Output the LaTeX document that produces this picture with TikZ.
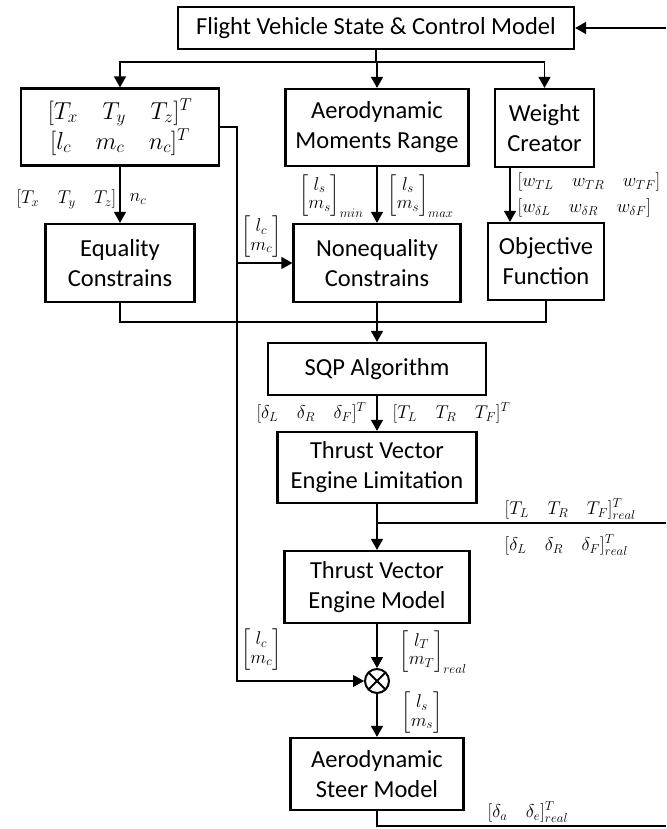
\RequirePackage{fix-cm}
\documentclass[tikz,border=0pt]{standalone}
\usepackage{amsmath}
\usepackage{fontspec}
\setmainfont{Carlito}
\usetikzlibrary{arrows.meta}
\newcommand{\boxfont}{\fontsize{24.5}{30}\selectfont}
\newcommand{\lblfont}{\fontsize{18.5}{22}\selectfont\renewcommand{\arraystretch}{0.85}}

\begin{document}
\begin{tikzpicture}[x=1pt,y=-1pt,line width=1.3pt,
		blk/.style={draw, line width=2.2pt, align=center, inner sep=0pt, font=\boxfont},
		lbl/.style={inner sep=0pt, font=\lblfont},
		sum/.style={draw, circle, line width=2pt, minimum size=24pt, inner sep=0pt,
			path picture={\draw[line width=2pt] (path picture bounding box.south west) -- (path picture bounding box.north east)
				(path picture bounding box.north west) -- (path picture bounding box.south east);}},
		>={Triangle[length=11pt,width=12pt]}]
				\useasboundingbox (0,0) rectangle (666,829);

				% blocks
				\node[blk, minimum width=396pt, minimum height=42pt] (top) at (376,28) {Flight Vehicle State \& Control Model};
				\node[blk, minimum width=198pt, minimum height=77pt] (tx) at (120,127) {$[T_x\quad T_y\quad T_z]^T$\\$[l_c\quad m_c\quad n_c]^T$};
				\node[blk, minimum width=183pt, minimum height=77pt] (aero) at (377,127.5) {Aerodynamic\\Moments Range};
				\node[blk, minimum width=99pt, minimum height=78pt] (wgt) at (544.5,128) {Weight\\Creator};
				\node[blk, minimum width=149pt, minimum height=78pt] (eq) at (120,263) {Equality\\Constrains};
				\node[blk, minimum width=167pt, minimum height=78pt] (neq) at (377,263) {Nonequality\\Constrains};
				\node[blk, minimum width=116pt, minimum height=77pt] (obj) at (546,261.5) {Objective\\Function};
				\node[blk, minimum width=218pt, minimum height=52pt] (sqp) at (377,369) {SQP Algorithm};
				\node[blk, minimum width=199pt, minimum height=71pt] (tvel) at (377,467.5) {Thrust Vector\\Engine Limitation};
				\node[blk, minimum width=185pt, minimum height=72pt] (tvem) at (377,587) {Thrust Vector\\Engine Model};
				\node[sum] (mix) at (377,681) {};
				\node[blk, minimum width=173pt, minimum height=72pt] (asm) at (377,774) {Aerodynamic\\Steer Model};

				\coordinate (dist) at (376,62);
				\coordinate (wcol) at (510,0);
				\coordinate (lbend) at (237,681);
				\coordinate (coll) at (377,322);
				\coordinate (tap) at (377,523);
				\coordinate (fbtop) at (666,28);
				\coordinate (fbmid) at (666,523);
				\coordinate (fbbot) at (666,826);

				% connectors
				\draw (top.south -| dist) -- (dist);
				\draw[->] (dist) -| (tx.north);
				\draw[->] (dist) -| (aero.north);
				\draw[->] (dist) -| (wgt.north);
				\draw[->] (tx.south) -- (eq.north);
				\draw[->] (aero.south) -- (neq.north);
				\draw[->] (wgt.south -| wcol) -- (obj.north -| wcol);
				\draw[->] (tx.east) -| (lbend) -- (mix.west);
				\draw[->] (neq.west -| lbend) -- (neq.west);
				\draw (eq.south) |- (coll) -| (obj.south);
				\draw[->] (neq.south) -- (sqp.north);
				\draw[->] (sqp.south) -- (tvel.north);
				\draw[->] (tvel.south) -- (tvem.north);
				\draw (tap) -- (fbmid);
				\draw[->] (tvem.south) -- (mix.north);
				\draw[->] (mix.south) -- (asm.north);
				\draw (asm.south) |- (fbbot);
				\draw[->] (fbtop) -- (top.east);

				% signal labels
				\node[lbl, anchor=east] (lTxyz) at (117,199) {$[T_x\quad T_y\quad T_z]$};
				\node[lbl, anchor=west] (lnc) at (129,199) {$n_c$};
				\node[lbl, anchor=east] (llmc) at (282,237) {$\begin{bmatrix} l_c\\ m_c\end{bmatrix}$};
				\node[lbl, anchor=east] (lmin) at (364,196) {$\begin{bmatrix} l_s\\ m_s\end{bmatrix}_{min}$};
				\node[lbl, anchor=west] (lmax) at (387,196) {$\begin{bmatrix} l_s\\ m_s\end{bmatrix}_{max}$};
				\node[lbl, anchor=west] (lwT) at (517,182) {$[w_{TL}\quad w_{TR}\quad w_{TF}]$};
				\node[lbl, anchor=west] (lwd) at (517,208) {$[w_{\delta L}\quad w_{\delta R}\quad w_{\delta F}]$};
				\node[lbl, anchor=east] (ldT) at (367,413) {$[\delta_L\quad \delta_R\quad \delta_F]^T$};
				\node[lbl, anchor=west] (lTT) at (392,413) {$[T_L\quad T_R\quad T_F]^T$};
				\node[lbl, anchor=west] (lTr) at (504,509) {$[T_L\quad T_R\quad T_F]^T_{real}$};
				\node[lbl, anchor=west] (ldr) at (504,545) {$[\delta_L\quad \delta_R\quad \delta_F]^T_{real}$};
				\node[lbl, anchor=east] (llmc2) at (282,650) {$\begin{bmatrix} l_c\\ m_c\end{bmatrix}$};
				\node[lbl, anchor=west] (llmT) at (399,652) {$\begin{bmatrix} l_T\\ m_T\end{bmatrix}_{real}$};
				\node[lbl, anchor=west] (llms) at (401,713) {$\begin{bmatrix} l_s\\ m_s\end{bmatrix}$};
				\node[lbl, anchor=west] (ldae) at (487,812) {$[\delta_a\quad \delta_e]^T_{real}$};
			\end{tikzpicture}
\end{document}
